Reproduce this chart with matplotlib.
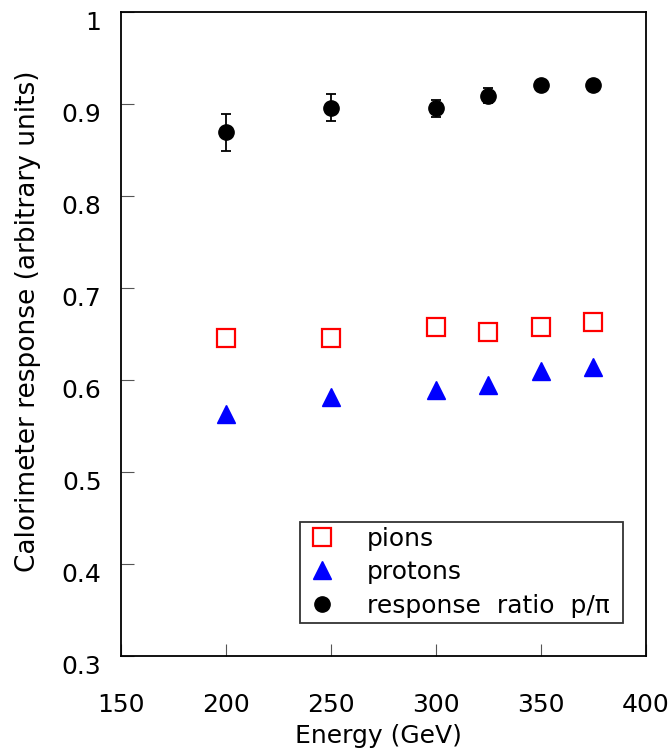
import matplotlib
matplotlib.use('Agg')
import matplotlib.pyplot as plt
import matplotlib.transforms as mtransforms

# Data
energy = [200, 250, 300, 325, 350, 375]
pions = [0.646, 0.646, 0.657, 0.652, 0.657, 0.663]
protons = [0.563, 0.581, 0.589, 0.594, 0.610, 0.614]
ratio = [0.869, 0.896, 0.895, 0.909, 0.921, 0.920]
ratio_err = [0.020, 0.015, 0.009, 0.0085, 0.0, 0.0]

xticks = [150, 200, 250, 300, 350, 400]
yticks = [0.3, 0.4, 0.5, 0.6, 0.7, 0.8, 0.9, 1.0]
ytick_labels = ['0.3', '0.4', '0.5', '0.6', '0.7', '0.8', '0.9', '1']

plt.rcParams['font.family'] = ['DejaVu Sans']

fig = plt.figure(figsize=(6.72, 7.49), dpi=100)
ax = fig.add_axes([0.180, 0.1242, 0.781, 0.860])

ax.errorbar(energy, ratio, yerr=ratio_err, fmt='none', ecolor='black',
            elinewidth=1.3, capsize=3.3, capthick=1.3)
ax.plot(energy, pions, linestyle='none', marker='s', markersize=13.5,
        markerfacecolor='none', markeredgecolor='red', markeredgewidth=1.6,
        label='pions')
ax.plot(energy, protons, linestyle='none', marker='^', markersize=13,
        color='blue', label='protons')
ax.plot(energy, ratio, linestyle='none', marker='o', markersize=11,
        color='black', label='response  ratio  p/\u03c0')

ax.set_xlim(150, 400)
ax.set_ylim(0.3, 1.0)
ax.set_xticks(xticks)
ax.set_yticks(yticks)
ax.set_yticklabels(ytick_labels)

ax.tick_params(axis='both', direction='in', length=9, width=0.8,
               color='#555555', labelsize=18, top=False, right=False)
ax.tick_params(axis='x', pad=27)
ax.tick_params(axis='y', pad=14)
for s in ax.spines.values():
    s.set_linewidth(1.3)

# y tick labels sit a little below their ticks in the original
offset = mtransforms.ScaledTranslation(0, -0.09, fig.dpi_scale_trans)
for lab in ax.get_yticklabels():
    lab.set_transform(lab.get_transform() + offset)

ax.set_xlabel('Energy (GeV)', fontsize=18)
ax.xaxis.set_label_coords(0.49, -0.105)
ax.set_ylabel('Calorimeter response (arbitrary units)', fontsize=19)
ax.yaxis.set_label_coords(-0.152, 0.52)

leg = ax.legend(loc='lower left', bbox_to_anchor=(0.342, 0.0517, 0.614, 0.158),
                mode='expand', fontsize=18, numpoints=1, frameon=True,
                fancybox=False, borderpad=0.2, handlelength=1.36,
                handletextpad=1.09, labelspacing=0.38, borderaxespad=0)
leg.get_frame().set_edgecolor('black')
leg.get_frame().set_linewidth(1.3)

fig.savefig('out.png', dpi=100)
